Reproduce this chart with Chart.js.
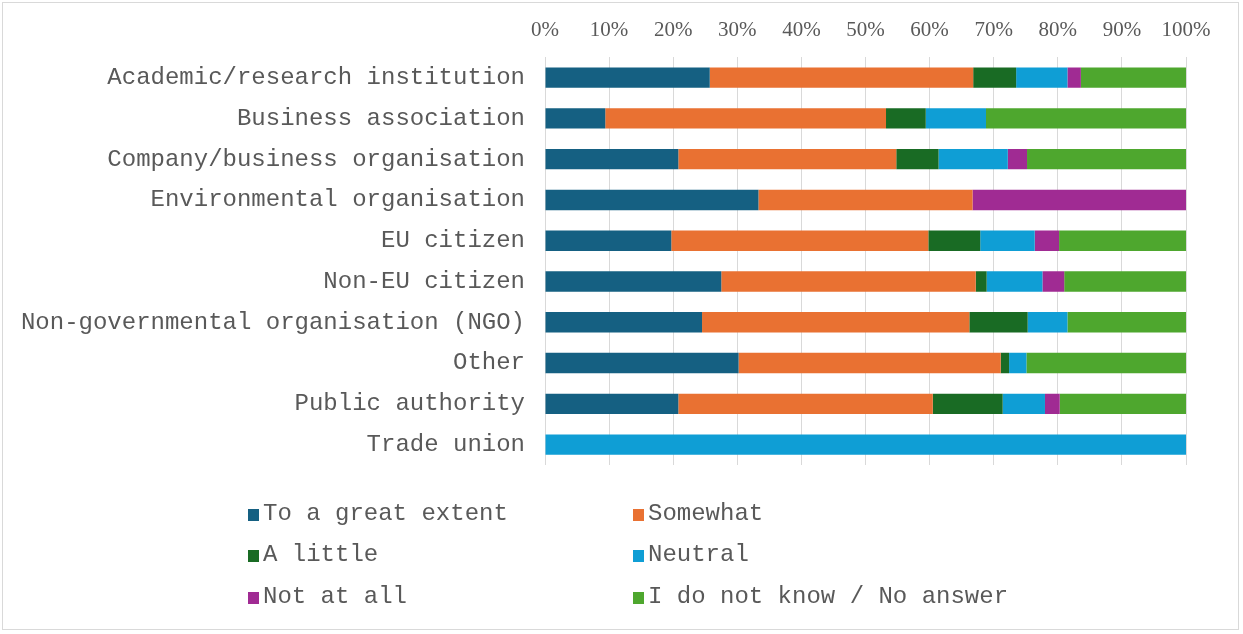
<!DOCTYPE html>
<html>
  <head>
    <title>Extent by respondent type</title>
    <script src="https://cdn.jsdelivr.net/npm/chart.js"></script>
    <style>
      html, body { margin: 0; padding: 0; background: #fff; }
      #wrap {
        position: absolute;
        left: 2px;
        top: 2px;
        width: 1237px;
        height: 628px;
        border: 1px solid #d9d9d9;
        box-sizing: border-box;
      }
      #chart { position: absolute; left: 0; top: 0; }
    </style>
  </head>
  <body>
    <div id="wrap"></div>
    <canvas id="chart" width="1243" height="634"></canvas>
    <script>
      const categories = [
        "Academic/research institution",
        "Business association",
        "Company/business organisation",
        "Environmental organisation",
        "EU citizen",
        "Non-EU citizen",
        "Non-governmental organisation (NGO)",
        "Other",
        "Public authority",
        "Trade union",
      ];
      const seriesNames = [
        "To a great extent",
        "Somewhat",
        "A little",
        "Neutral",
        "Not at all",
        "I do not know / No answer",
      ];
      const greatExtent = [25.7, 9.4, 20.8, 33.3, 19.7, 27.5, 24.5, 30.2, 20.8, 0];
      const somewhat    = [41.1, 43.8, 34.0, 33.4, 40.1, 39.7, 41.7, 40.9, 39.7, 0];
      const aLittle     = [6.7, 6.2, 6.6, 0, 8.1, 1.7, 9.1, 1.3, 10.9, 0];
      const neutral     = [8.0, 9.4, 10.8, 0, 8.5, 8.7, 6.2, 2.7, 6.6, 100];
      const notAtAll    = [2.1, 0, 3.0, 33.3, 3.8, 3.4, 0, 0, 2.3, 0];
      const dontKnow    = [16.4, 31.2, 24.8, 0, 19.8, 19.0, 18.5, 24.9, 19.7, 0];
      const colors = ["#156082", "#E97132", "#196B24", "#0F9ED5", "#A02B93", "#4EA72E"];

      const allSeries = [greatExtent, somewhat, aLittle, neutral, notAtAll, dontKnow];
      const textColor = "#595959";

      // two-column legend under the plot, like the Excel original
      const gridLegend = {
        id: "gridLegend",
        afterDraw(chart) {
          const ctx = chart.ctx;
          const cols = [248, 633];
          const rows = [514, 555, 597];
          ctx.save();
          ctx.font = "24px 'Liberation Mono'";
          ctx.textBaseline = "middle";
          ctx.textAlign = "left";
          chart.data.datasets.forEach((ds, i) => {
            const x = cols[i % 2];
            const y = rows[Math.floor(i / 2)];
            ctx.fillStyle = ds.backgroundColor;
            ctx.fillRect(x, y - 5, 11, 12);
            ctx.fillStyle = textColor;
            ctx.fillText(ds.label, x + 15, y);
          });
          ctx.restore();
        },
      };

      new Chart(document.getElementById("chart"), {
        type: "bar",
        data: {
          labels: categories,
          datasets: allSeries.map((d, i) => ({
            label: seriesNames[i],
            data: d,
            backgroundColor: colors[i],
            borderWidth: 0,
            categoryPercentage: 1,
            barPercentage: 0.5,
          })),
        },
        options: {
          indexAxis: "y",
          responsive: false,
          animation: false,
          layout: { padding: { top: 4, right: 57, bottom: 169, left: 0 } },
          plugins: {
            legend: { display: false },
            tooltip: { enabled: false },
          },
          scales: {
            x: {
              position: "top",
              stacked: true,
              min: 0,
              max: 100,
              ticks: {
                stepSize: 10,
                color: textColor,
                padding: 14,
                font: { family: "'Liberation Serif'", size: 21 },
                callback: (v) => v + "%",
              },
              grid: { color: "#d9d9d9", lineWidth: 1, drawTicks: false },
              border: { display: false },
            },
            y: {
              stacked: true,
              ticks: {
                color: textColor,
                padding: 20,
                font: { family: "'Liberation Mono'", size: 24 },
              },
              grid: { display: false, drawTicks: false },
              border: { display: false },
              afterFit(scale) {
                scale.width = 545;
              },
            },
          },
        },
        plugins: [gridLegend],
      });
    </script>
  </body>
</html>
